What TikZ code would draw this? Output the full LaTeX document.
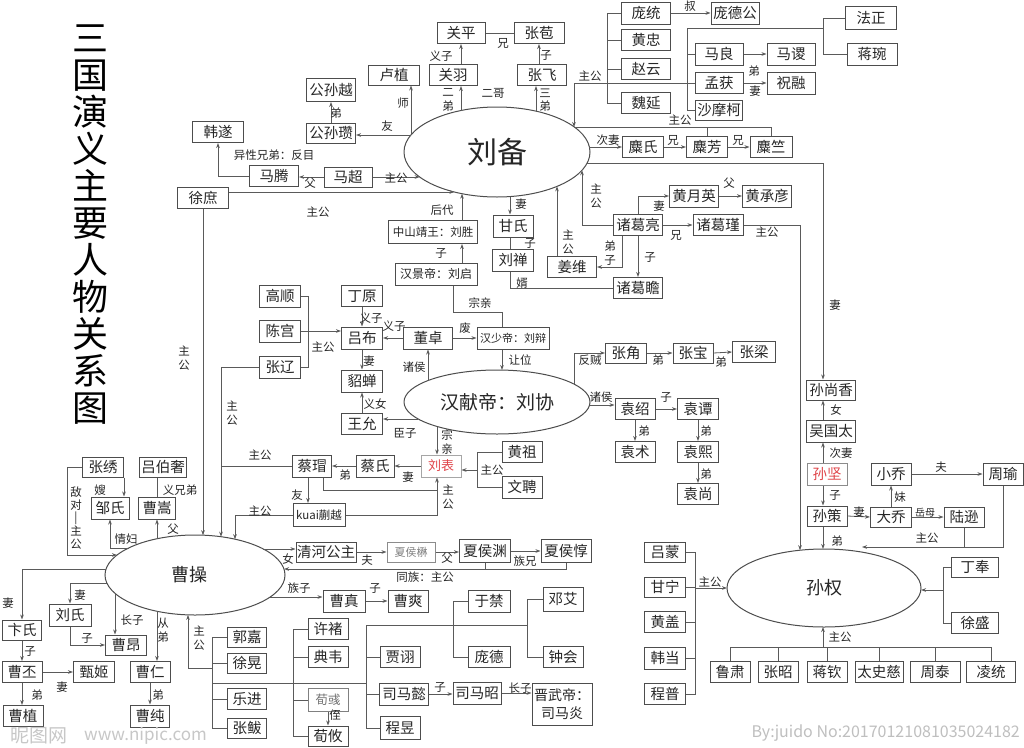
\documentclass[tikz,border=0pt]{standalone}
\usepackage{fontspec}
\setmainfont{Noto Sans CJK SC}
\usetikzlibrary{calc,arrows.meta,shapes.geometric}
\definecolor{bc}{HTML}{4D4D4D}
\definecolor{lc}{HTML}{5A5A5A}
\definecolor{tc}{HTML}{262626}
\definecolor{rc}{HTML}{E0454A}
\tikzset{
 box/.style={draw=bc,line width=1pt,rectangle,minimum height=21,minimum width=41,inner sep=1pt,font=\fontsize{14.5}{15}\selectfont,text=tc},
 lab/.style={font=\fontsize{11.5}{12}\selectfont,text=tc,inner sep=0pt},
 vlab/.style={lab,align=center,font=\fontsize{11.5}{13.5}\selectfont},
 con/.style={draw=lc,line width=0.8pt},
 arr/.style={con,-{Stealth[length=5pt,width=3.6pt]}},
 ell/.style={ellipse,draw=bc,line width=1pt,inner sep=0pt,outer sep=0pt,text=tc},
}
\begin{document}
\begin{tikzpicture}[x=1pt,y=-1pt]
\fill[white] (0,0) rectangle (1024,747);
\useasboundingbox (0,0) rectangle (1024,747);
% title
\node[font=\fontsize{36}{37}\selectfont,align=center,text=black,inner sep=0pt] (title) at (90,225) {三\\国\\演\\义\\主\\要\\人\\物\\关\\系\\图};
% ellipses
\node[ell,minimum width=186,minimum height=90,font=\fontsize{30}{30}\selectfont] (lb) at (497,152) {刘备};
\node[ell,minimum width=186,minimum height=64,font=\fontsize{19}{19}\selectfont] (xd) at (497,402) {汉献帝：刘协};
\node[ell,minimum width=180,minimum height=80,font=\fontsize{18}{18}\selectfont] (cc) at (195,575) {\raisebox{-6pt}{曹操\hspace{12pt}}};
\node[ell,minimum width=194,minimum height=78,font=\fontsize{18}{18}\selectfont] (sq) at (824,588) {孙权};
% Liu Bei group
\node[box,minimum width=48] (gp) at (461,33) {关平};
\node[box,minimum width=50] (zb) at (539,33) {张苞};
\node[box,minimum width=48] (gy) at (453,75) {关羽};
\node[box,minimum width=49] (zf) at (542,75) {张飞};
\node[box,minimum width=51,minimum height=20] (lz) at (394,75) {卢植};
\node[box,minimum width=49,minimum height=23] (gsy) at (331,90) {公孙越};
\node[box,minimum width=49,minimum height=20] (gsz) at (331,133) {公孙瓒};
\node[box,minimum width=51] (hs) at (218,132) {韩遂};
\node[box,minimum width=49] (mt) at (274,176) {马腾};
\node[box,minimum width=48,minimum height=20] (mc) at (348,177) {马超};
\node[box,minimum width=51] (xs) at (203,198) {徐庶};
\node[box,minimum width=49,minimum height=22] (pt) at (646,13) {庞统};
\node[box,minimum width=48,minimum height=22] (pdg) at (735,13) {庞德公};
\node[box,minimum width=49] (hz) at (646,40) {黄忠};
\node[box,minimum width=49] (zy) at (646,69) {赵云};
\node[box,minimum width=49] (wy) at (646,103) {魏延};
\node[box,minimum width=48,minimum height=22] (ml) at (719,54) {马良};
\node[box,minimum width=48,minimum height=22] (ms) at (791,54) {马谡};
\node[box,minimum width=48] (mh) at (719,83) {孟获};
\node[box,minimum width=48,minimum height=22] (zr) at (791,83) {祝融};
\node[box,minimum width=47,minimum height=20] (smk) at (719,110) {沙摩柯};
\node[box,minimum width=51,minimum height=23] (fz) at (871,18) {法正};
\node[box,minimum width=50,minimum height=22] (jw) at (872,54) {蒋琬};
\node[box] (msh) at (643,147) {麋氏};
\node[box] (mf) at (707,147) {麋芳};
\node[box,minimum width=42] (mz) at (771,147) {麋竺};
\node[box,minimum width=49,minimum height=22] (hyy) at (694,196) {黄月英};
\node[box,minimum width=49,minimum height=22] (hcy) at (767,196) {黄承彦};
\node[box,minimum width=49] (zgl) at (638,225) {诸葛亮};
\node[box,minimum width=50] (zgj) at (718,225) {诸葛瑾};
\node[box,minimum width=49] (jwei) at (572,267) {姜维};
\node[box,minimum width=49] (zgz) at (638,288) {诸葛瞻};
\node[box,minimum width=40,minimum height=22] (gs) at (513,226) {甘氏};
\node[box,minimum width=41,minimum height=22] (ls) at (513,260) {刘禅};
\node[box,minimum width=89,minimum height=23,font=\fontsize{11.5}{12}\selectfont] (zs) at (433,232) {中山靖王：刘胜};
\node[box,minimum width=82,minimum height=22,font=\fontsize{12}{12}\selectfont] (hjd) at (436,274) {汉景帝：刘启};
\node[box,minimum width=72,minimum height=22,font=\fontsize{11}{11}\selectfont] (hsd) at (513,338) {汉少帝：刘辩};
\node[box,minimum width=49,minimum height=22] (dz) at (428,338) {董卓};
\node[box,minimum height=22] (lvb) at (362,338) {吕布};
\node[box] (dy) at (362,296) {丁原};
\node[box,minimum height=22] (dc) at (362,381) {貂蝉};
\node[box] (wyun) at (362,424) {王允};
\node[box,minimum height=22] (gsh) at (280,296) {高顺};
\node[box,minimum height=22] (cg) at (280,331) {陈宫};
\node[box,minimum height=22] (zl) at (280,367) {张辽};
\node[box,minimum width=39,minimum height=22] (cm) at (312,466) {蔡瑁};
\node[box,minimum width=38,minimum height=22] (csh) at (375,466) {蔡氏};
\node[box,minimum width=40,minimum height=22,draw=black!35,text=rc,font=\fontsize{13}{13}\selectfont] (lbiao) at (441,466) {刘表};
\node[box,minimum width=40] (hzu) at (522,452) {黄祖};
\node[box,minimum width=40,minimum height=22] (wp) at (522,487) {文聘};
\node[box,minimum width=52,minimum height=23,font=\fontsize{11.5}{12}\selectfont] (ky) at (319,515) {kuai蒯越};
\node[box,minimum height=20] (zj) at (626,353) {张角};
\node[box,minimum width=40,minimum height=20] (zbao) at (693,353) {张宝};
\node[box,minimum width=43] (zlg) at (754,352) {张梁};
\node[box,minimum width=40] (ys) at (635,409) {袁绍};
\node[box] (yt) at (698,409) {袁谭};
\node[box,minimum width=40] (ysh) at (635,452) {袁术};
\node[box] (yx) at (698,452) {袁熙};
\node[box] (ysg) at (698,494) {袁尚};
% Sun
\node[box,minimum width=49,minimum height=20] (ssx) at (831,390) {孙尚香};
\node[box,minimum width=49,minimum height=22] (wgt) at (831,431) {吴国太};
\node[box,minimum width=40,minimum height=22,draw=black!45,text=rc] (sj) at (827,474) {孙坚};
\node[box,minimum width=40,minimum height=20] (sc) at (827,516) {孙策};
\node[box,minimum width=40,minimum height=22] (xq) at (891,474) {小乔};
\node[box,minimum height=20] (dq) at (891,517) {大乔};
\node[box,minimum width=40,minimum height=22] (zyu) at (1003,474) {周瑜};
\node[box,minimum width=40,minimum height=20] (lx) at (964,517) {陆逊};
% Cao
\node[box,minimum height=20] (zx) at (103,467) {张绣};
\node[box,minimum width=47,minimum height=20] (lbs) at (163,467) {吕伯奢};
\node[box,minimum width=38,minimum height=22] (zsh) at (110,508) {邹氏};
\node[box,minimum width=37,minimum height=22] (cs) at (157,508) {曹嵩};
\node[box,minimum width=39,minimum height=20] (bs) at (22,630) {卞氏};
\node[box,minimum width=42,minimum height=22] (lshi) at (70,615) {刘氏};
\node[box,minimum height=20] (ca) at (126,645) {曹昂};
\node[box,minimum width=40] (cp) at (22,672) {曹丕};
\node[box] (zji) at (94,672) {甄姬};
\node[box,minimum width=40] (czh) at (23,716) {曹植};
\node[box,minimum width=40] (cr) at (150,672) {曹仁};
\node[box,minimum width=39,minimum height=22] (cch) at (150,716) {曹纯};
\node[box,minimum width=39,minimum height=20] (gj) at (247,637) {郭嘉};
\node[box,minimum width=39,minimum height=20] (xh) at (247,663) {徐晃};
\node[box,minimum width=39] (lj) at (247,699) {乐进};
\node[box,minimum width=39,minimum height=20] (zha) at (247,728) {张鲅};
\node[box,minimum width=57,minimum height=20] (qh) at (326,552) {清河公主};
\node[box,minimum width=48,minimum height=20,draw=black!45,text=black!50,font=\fontsize{11}{11}\selectfont] (xhm) at (411,552) {夏侯楙};
\node[box,minimum width=51,minimum height=23] (xhy) at (485,551) {夏侯渊};
\node[box,minimum width=50,minimum height=23] (xhd) at (566,551) {夏侯惇};
\node[box,minimum width=42,minimum height=22] (czn) at (344,601) {曹真};
\node[box,minimum width=40,minimum height=22] (csg) at (408,601) {曹爽};
\node[box,minimum width=42,minimum height=22] (yj) at (489,601) {于禁};
\node[box,minimum width=42] (pd) at (489,657) {庞德};
\node[box,minimum width=40,minimum height=24] (da) at (563,599) {邓艾};
\node[box,minimum width=40] (zh) at (563,657) {钟会};
\node[box,minimum width=40] (xc) at (328,629) {许褚};
\node[box,minimum width=40] (dw) at (328,657) {典韦};
\node[box,minimum width=40,minimum height=23,draw=black!50,text=black!55,font=\fontsize{12.5}{13}\selectfont] (xyu) at (328,700) {荀彧};
\node[box,minimum width=40,minimum height=20] (xyo) at (328,736) {荀攸};
\node[box,minimum width=40] (jx) at (400,657) {贾诩};
\node[box,minimum width=49,minimum height=22] (smy) at (404,694) {司马懿};
\node[box,minimum width=48,minimum height=22] (smz) at (477,693) {司马昭};
\node[box,minimum width=60,minimum height=42,align=center,font=\fontsize{14}{18}\selectfont] (jwd) at (562,704) {晋武帝：\\司马炎};
\node[box,minimum width=40,minimum height=23] (cy) at (400,728) {程昱};
% Sun generals
\node[box,minimum height=20] (lm) at (665,552) {吕蒙};
\node[box,minimum height=20] (gn) at (665,587) {甘宁};
\node[box] (hg) at (665,622) {黄盖};
\node[box,minimum height=22] (hd) at (665,658) {韩当};
\node[box] (cpu) at (665,694) {程普};
\node[box,minimum width=47,minimum height=20] (df) at (975,567) {丁奉};
\node[box,minimum width=47] (xsh) at (975,623) {徐盛};
\node[box,minimum width=40] (lsu) at (730,672) {鲁肃};
\node[box,minimum width=40] (zz) at (778,672) {张昭};
\node[box,minimum width=40] (jq) at (827,672) {蒋钦};
\node[box,minimum width=48] (tsc) at (879,672) {太史慈};
\node[box,minimum width=50] (zt) at (935,672) {周泰};
\node[box,minimum width=49] (lt) at (991,672) {凌统};
% contact points and junctions
\coordinate (lbGY) at ($(lb)+(-36,-41.5)$);
\coordinate (lbZF) at ($(lb)+(39,-40.9)$);
\coordinate (lbL) at ($(lb)+(-86,-17)$);
\coordinate (lbMC) at ($(lb)+(-77.3,25)$);
\coordinate (lbXS) at ($(lb)+(-42.6,40)$);
\coordinate (lbR) at ($(lb)+(77,-25)$);
\coordinate (lbCQ) at ($(lb)+(92.4,-5)$);
\coordinate (lbSX) at ($(lb)+(90,11)$);
\coordinate (lbZL) at ($(lb)+(85,18.3)$);
\coordinate (lbJW) at ($(lb)+(60,34.4)$);
\coordinate (lbGS) at ($(lb)+(13,44.6)$);
\coordinate (lbZS) at ($(lb)+(-35,41.7)$);
\coordinate (xdRW) at ($(xd)+(5,-32)$);
\coordinate (xdDZ) at ($(xd)+(-69,-21.4)$);
\coordinate (xdWY) at ($(xd)+(-78.8,17)$);
\coordinate (xdLB) at ($(xd)+(-60,24.5)$);
\coordinate (xdFZ) at ($(xd)+(77,-17.9)$);
\coordinate (xdYS) at ($(xd)+(92.6,3)$);
\coordinate (ccXS) at ($(cc)+(8,-39.8)$);
\coordinate (ccZL) at ($(cc)+(26,-38.3)$);
\coordinate (ccKY) at ($(cc)+(40,-35.8)$);
\coordinate (ccCS) at ($(cc)+(-38,-36.3)$);
\coordinate (ccQF) at ($(cc)+(-66.4,-27)$);
\coordinate (ccZX) at ($(cc)+(-78,-20)$);
\coordinate (ccBS) at ($(cc)+(-89,-6)$);
\coordinate (ccLS) at ($(cc)+(-88.2,8)$);
\coordinate (ccCA) at ($(cc)+(-80,18.3)$);
\coordinate (ccCR) at ($(cc)+(-38,36.3)$);
\coordinate (ccG) at ($(cc)+(-7,39.9)$);
\coordinate (ccQH) at ($(cc)+(68.4,-26)$);
\coordinate (ccTZ) at ($(cc)+(89,-6)$);
\coordinate (ccZZ) at ($(cc)+(75,22)$);
\coordinate (sqZ) at ($(sq)+(-24,-37.8)$);
\coordinate (sqSC) at ($(sq)+(-1,-39)$);
\coordinate (sqZY) at ($(sq)+(38,-41)$);
\coordinate (sqW) at ($(sq)+(-97,0)$);
\coordinate (sqE) at ($(sq)+(97,2)$);
\coordinate (sqS) at ($(sq)+(-1,39)$);
\coordinate (brA) at (607,84);
\coordinate (brB) at (687,28);
\coordinate (brC) at (823,28);
\coordinate (colS) at (823,300);
\coordinate (zqA) at (453,312);
\coordinate (zqB) at (502,312);
\coordinate (brL) at (308,331);
\coordinate (brH) at (477,470);
\coordinate (kyJ) at (437,490);
\coordinate (brG) at (212,668);
\coordinate (brX) at (293,683);
\coordinate (brY) at (366,683);
\coordinate (brT) at (366,625);
\coordinate (brYJ) at (453,625);
\coordinate (brDA) at (527,625);
\coordinate (brW) at (695,588);
\coordinate (brE) at (943,590);
\coordinate (brS) at (823,647);
\coordinate (dzA) at ($(zgl.south)+(-16,0)$);
\coordinate (jwA) at ($(jwei.north)+(-15,0)$);
\coordinate (cmA) at ($(cm.south)+(11,0)$);
\coordinate (cmB) at ($(cm.south)+(-4,0)$);
% Liu Bei connectors
\draw[arr] (gp.south |- gy.north) -- (gp.south);
\draw[arr] (zb.south |- zf.north) -- (zb.south);
\draw[con] (gp.east) -- (zb.west);
\draw[arr] (lbGY) -- (lbGY |- gy.south);
\draw[arr] (lbZF) -- (lbZF |- zf.south);
\draw[arr] (lbL) -- (lbL -| gsz.east);
\draw[arr] (lbL) -- (lbL |- lz.south);
\draw[arr] (gsz.north) -- (gsy.south);
\draw[arr] (mc.west) -- (mc.west -| mt.east);
\draw[arr] (mt.west) -| (hs.south);
\draw[arr] (mc.east) -- (lbMC);
\draw[arr] (lbXS -| xs.east) -- (lbXS);
\draw[arr] (xs.south) -- (ccXS);
\draw[arr] (pt.east) -- (pdg.west);
\draw[con] (pt.west) -- (pt.west -| brA) -- (wy.west -| brA) -- (wy.west);
\draw[con] (hz.west) -- (hz.west -| brA);
\draw[con] (zy.west) -- (zy.west -| brA);
\draw[arr] (mh.west) -| (lbR);
\draw[con] (brB) -- (brB |- smk.west) -- (smk.west);
\draw[con] (ml.west) -- (ml.west -| brB);
\draw[con] (brB) -- (brC);
\draw[con] (fz.west) -- (fz.west -| brC) -- (jw.west -| brC) -- (jw.west);
\draw[arr] (ml.east) -- (ms.west);
\draw[arr] (mh.east) -- (zr.west);
\draw[arr] (lbCQ) -- (lbCQ -| msh.west);
\draw[arr] (msh.east) -- (mf.west);
\draw[arr] (mf.east) -- (mz.west);
\draw[con] (mz.north) |- (lbR);
\draw[con] (mf.north) -- (mf.north |- lbR);
\draw[arr] (lbSX) -| (colS |- ssx.north);
\draw[arr] (zgj.east) -| (sqZ);
\draw[arr] (zgl.north) |- (hyy.west);
\draw[arr] (hyy.east) -- (hcy.west);
\draw[arr] (zgl.east) -- (zgj.west);
\draw[arr] (zgl.south) -- (zgz.north);
\draw[arr] (dzA) |- (jwei.east);
\draw[arr] (jwA) -- (lbJW);
\draw[arr] (zgl.west) -| (lbZL);
\draw[arr] (lbGS) -- (lbGS |- gs.north);
\draw[con] (lbGS |- gs.south) -- (lbGS |- ls.north);
\draw[con] (lbGS |- ls.south) |- (zgz.west);
\draw[arr] (lbZS |- zs.north) -- (lbZS);
\draw[arr] (lbZS |- hjd.north) -- (lbZS |- zs.south);
\draw[con] (zqA |- hjd.south) -- (zqA) -- (zqB) -- (zqB |- hsd.north);
\draw[arr] (dz.east) -- (hsd.west);
\draw[arr] (zqB |- hsd.south) -- (xdRW);
\draw[arr] (xdDZ) -- (xdDZ |- dz.south);
\draw[arr] (dz.west) -- (lvb.east);
\draw[arr] (dy.south) -- (lvb.north);
\draw[arr] (lvb.south) -- (dc.north);
\draw[arr] (wyun.north) -- (dc.south);
\draw[arr] (xdWY) -- (xdWY -| wyun.east);
\draw[con] (gsh.east) -- (gsh.east -| brL) -- (zl.east -| brL) -- (zl.east);
\draw[arr] (cg.east) -- (cg.east -| lvb.west);
\draw[arr] (zl.west) -| (ccZL);
\draw[con] (cm.west) -- (cm.west -| ccZL);
\draw[arr] (xdLB) -- (xdLB |- lbiao.north);
\draw[arr] (lbiao.west) -- (csh.east);
\draw[arr] (csh.west) -- (cm.east);
\draw[con] (hzu.west) -- (hzu.west -| brH) -- (wp.west -| brH) -- (wp.west);
\draw[arr] (brH) -- (brH -| lbiao.east);
\draw[con] (cmA) |- (kyJ);
\draw[arr] (ky.east) -| (xdLB |- lbiao.south);
\draw[arr] (cmB) -- (cmB |- ky.north);
\draw[arr] (ky.west) -| (ccKY);
% Zhang Jiao / Yuan
\draw[arr] (xdFZ) |- (zj.west);
\draw[arr] (zj.east) -- (zbao.west);
\draw[arr] (zbao.east) -- (zlg.west);
\draw[arr] (xdYS) -- (xdYS -| ys.west);
\draw[arr] (ys.east) -- (yt.west);
\draw[arr] (ys.south) -- (ysh.north);
\draw[arr] (yt.south) -- (yx.north);
\draw[arr] (yx.south) -- (ysg.north);
% Sun connectors
\draw[arr] (colS |- wgt.north) -- (colS |- ssx.south);
\draw[arr] (colS |- sj.north) -- (colS |- wgt.south);
\draw[arr] (colS |- sj.south) -- (colS |- sc.north);
\draw[arr] (sc.east) -- (dq.west);
\draw[arr] (dq.north) -- (xq.south);
\draw[arr] (xq.east) -- (zyu.west);
\draw[arr] (dq.east) -- (lx.west);
\draw[arr] (sqSC |- sc.south) -- (sqSC);
\draw[arr] (zyu.south) |- (sqZY);
\draw[con] (lx.south) -- (lx.south |- sqZY);
\draw[con] (lm.east) -- (lm.east -| brW) -- (cpu.east -| brW) -- (cpu.east);
\draw[con] (gn.east) -- (gn.east -| brW);
\draw[con] (hg.east) -- (hg.east -| brW);
\draw[con] (hd.east) -- (hd.east -| brW);
\draw[arr] (brW) -- (sqW);
\draw[con] (df.west) -- (df.west -| brE) -- (xsh.west -| brE) -- (xsh.west);
\draw[arr] (brE) -- (sqE);
\draw[con] (lsu.north) -- (lsu.north |- brS) -- (lt.north |- brS) -- (lt.north);
\foreach \n in {zz,jq,tsc,zt} \draw[con] (\n.north) -- (\n.north |- brS);
\draw[arr] (brS) -- (sqS);
% Cao connectors
\draw[arr] (zx.south east) -- (zx.south east |- zsh.north);
\draw[con] (cs.north |- lbs.south) -- (cs.north);
\draw[arr] (zx.west) -- ++(-15,0) |- (ccZX);
\draw[arr] (ccQF) -| (zsh.south);
\draw[arr] (ccCS) -- (ccCS |- cs.south);
\draw[arr] (ccBS) -| (bs.north);
\draw[arr] (ccLS) -| (lshi.north);
\draw[arr] (lshi.south) |- (ca.west);
\draw[arr] (ccCA) -- (ccCA |- ca.north);
\draw[arr] (ccCR) -- (ccCR |- cr.north);
\draw[arr] (bs.south) -- (bs.south |- cp.north);
\draw[arr] (cp.east) -- (zji.west);
\draw[arr] (cp.south) -- (cp.south |- czh.north);
\draw[arr] (cr.south) -- (cch.north);
\draw[arr] (brG) -| (ccG);
\draw[con] (gj.west) -- (gj.west -| brG) -- (zha.west -| brG) -- (zha.west);
\draw[con] (xh.west) -- (xh.west -| brG);
\draw[con] (lj.west) -- (lj.west -| brG);
\draw[con] (brG |- brX) -- (brY);
\draw[con] (xc.west) -- (xc.west -| brX) -- (xyo.west -| brX) -- (xyo.west);
\draw[con] (dw.west) -- (dw.west -| brX);
\draw[con] (xyu.west) -- (xyu.west -| brX);
\draw[con] (brT) -- (brT |- cy.west) -- (cy.west);
\draw[con] (jx.west) -- (jx.west -| brT);
\draw[con] (smy.west) -- (smy.west -| brT);
\draw[con] (brT) -- (brDA);
\draw[con] (da.west) -- (da.west -| brDA) -- (zh.west -| brDA) -- (zh.west);
\draw[con] (yj.west) -- (yj.west -| brYJ) -- (pd.west -| brYJ) -- (pd.west);
\draw[arr] (xyu.south) -- (xyo.north);
\draw[arr] (smy.east) -- (smy.east -| smz.west);
\draw[arr] (smz.east) -- (smz.east -| jwd.west);
\draw[arr] (ccQH) -- (ccQH -| qh.west);
\draw[arr] (qh.east) -- (xhm.west);
\draw[arr] (xhm.east) -- (xhm.east -| xhy.west);
\draw[arr] (xhy.east) -- (xhd.west);
\draw[arr] (xhd.south) |- (ccTZ);
\draw[con] (xhy.south) -- (xhy.south |- ccTZ);
\draw[arr] (ccZZ) -- (ccZZ -| czn.west);
\draw[arr] (czn.east) -- (csg.west);
% labels
\node[lab] (t1) at (441,56) {义子};
\node[lab] (t2) at (503,43) {兄};
\node[lab] (t3) at (546,55) {子};
\node[vlab] (t4) at (448,100) {二\\弟};
\node[lab] (t5) at (493,93) {二哥};
\node[vlab] (t6) at (545,100) {三\\弟};
\node[lab] (t7) at (403,103) {师};
\node[lab] (t8) at (387,126) {友};
\node[lab] (t9) at (336,113) {弟};
\node[lab] (t10) at (274,155) {异性兄弟：反目};
\node[lab] (t11) at (310,183) {父};
\node[lab] (t12) at (396,178) {主公};
\node[lab] (t13) at (318,212) {主公};
\node[vlab] (t14) at (184,358) {主\\公};
\node[lab] (t15) at (690,6) {叔};
\node[lab] (t16) at (590,76) {主公};
\node[lab] (t17) at (754,71) {弟};
\node[lab] (t18) at (755,91) {妻};
\node[lab] (t19) at (680,120) {主公};
\node[lab] (t20) at (608,140) {次妻};
\node[lab] (t21) at (673,140) {兄};
\node[lab] (t22) at (738,140) {兄};
\node[lab] (t23) at (835,305) {妻};
\node[lab] (t24) at (767,232) {主公};
\node[lab] (t25) at (729,183) {父};
\node[lab] (t26) at (659,206) {妻};
\node[lab] (t27) at (676,235) {兄};
\node[lab] (t28) at (650,257) {子};
\node[vlab] (t29) at (610,253) {弟\\子};
\node[vlab] (t30) at (596,196) {主\\公};
\node[vlab] (t31) at (568,242) {主\\公};
\node[lab] (t32) at (521,204) {妻};
\node[lab] (t33) at (530,243) {子};
\node[lab] (t34) at (522,283) {婿};
\node[lab] (t35) at (442,210) {后代};
\node[lab] (t36) at (441,253) {子};
\node[lab] (t37) at (480,303) {宗亲};
\node[lab] (t38) at (465,328) {废};
\node[lab] (t39) at (520,360) {让位};
\node[lab] (t40) at (414,367) {诸侯};
\node[lab] (t41) at (371,318) {义子};
\node[lab] (t42) at (394,326) {义子};
\node[lab] (t43) at (323,347) {主公};
\node[lab] (t44) at (369,361) {妻};
\node[lab] (t45) at (375,404) {义女};
\node[lab] (t46) at (405,433) {臣子};
\node[vlab] (t47) at (232,413) {主\\公};
\node[vlab] (t48) at (447,442) {宗\\亲};
\node[lab] (t49) at (408,477) {妻};
\node[lab] (t50) at (345,475) {弟};
\node[lab] (t51) at (492,470) {主公};
\node[vlab] (t52) at (448,497) {主\\公};
\node[lab] (t53) at (297,495) {友};
\node[lab] (t54) at (260,455) {主公};
\node[lab] (t55) at (260,511) {主公};
\node[lab] (t56) at (590,360) {反贼};
\node[lab] (t57) at (658,360) {弟};
\node[lab] (t58) at (721,362) {弟};
\node[lab] (t59) at (601,397) {诸侯};
\node[lab] (t60) at (666,397) {子};
\node[lab] (t61) at (644,431) {弟};
\node[lab] (t62) at (706,431) {弟};
\node[lab] (t63) at (706,474) {弟};
\node[lab] (t64) at (836,410) {女};
\node[lab] (t65) at (841,453) {次妻};
\node[lab] (t66) at (835,495) {子};
\node[lab] (t67) at (900,497) {妹};
\node[lab] (t68) at (941,467) {夫};
\node[lab] (t69) at (859,512) {妻};
\node[lab,font=\fontsize{10}{10}\selectfont] (t70) at (925,513) {岳母};
\node[lab] (t71) at (927,538) {主公};
\node[lab] (t72) at (837,541) {弟};
\node[lab] (t73) at (710,582) {主公};
\node[lab] (t74) at (840,637) {主公};
\node[lab] (t75) at (100,490) {嫂};
\node[lab] (t76) at (180,490) {义兄弟};
\node[vlab,font=\fontsize{11.5}{12.5}\selectfont] (t77) at (76,518) {敌\\对\\|\\主\\公};
\node[lab] (t78) at (126,539) {情妇};
\node[lab] (t79) at (173,529) {父};
\node[lab] (t80) at (8,603) {妻};
\node[lab] (t81) at (80,595) {妻};
\node[lab] (t82) at (87,638) {子};
\node[lab] (t83) at (132,620) {长子};
\node[vlab] (t84) at (163,630) {从\\弟};
\node[lab] (t85) at (30,651) {子};
\node[lab] (t86) at (62,687) {妻};
\node[lab] (t87) at (37,695) {弟};
\node[lab] (t88) at (158,695) {弟};
\node[vlab] (t89) at (199,638) {主\\公};
\node[lab] (t90) at (288,559) {女};
\node[lab] (t91) at (367,560) {夫};
\node[lab] (t92) at (447,558) {父};
\node[lab] (t93) at (525,561) {族兄};
\node[lab] (t94) at (425,577) {同族：主公};
\node[lab] (t95) at (299,588) {族子};
\node[lab] (t96) at (375,588) {子};
\node[lab] (t97) at (335,715) {侄};
\node[lab] (t98) at (440,687) {子};
\node[lab] (t99) at (520,688) {长子};
% watermarks
\node[font=\fontsize{19}{19}\selectfont,text=black!22,inner sep=0pt,anchor=west] (wm1) at (10,736) {昵图网};
\node[font=\fontsize{17}{17}\selectfont,text=black!22,inner sep=0pt,anchor=west] (wm2) at (84,736) {www.nipic.com};
\node[font=\fontsize{16}{16}\selectfont,text=black!25,inner sep=0pt,anchor=east] (wm3) at (1020,733) {By:juido No:20170121081035024182};
\end{tikzpicture}
\end{document}
